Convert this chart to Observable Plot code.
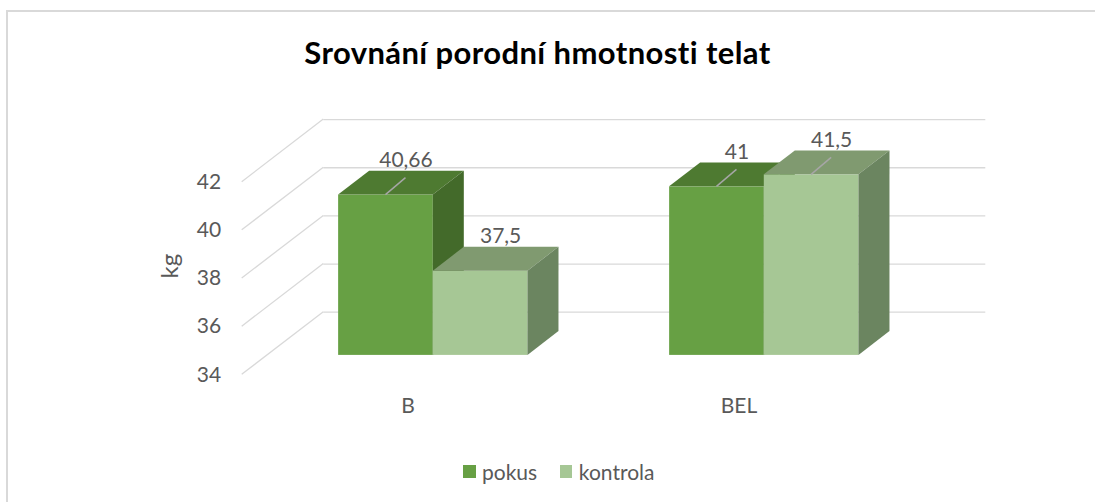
<!DOCTYPE html>
<html><head><meta charset="utf-8">
<script src="https://cdn.jsdelivr.net/npm/d3@7"></script>
<script src="https://cdn.jsdelivr.net/npm/@observablehq/plot@0.6"></script>
<style>
body{margin:0;background:#fff;}
#wrap{position:relative;width:1095px;height:502px;overflow:hidden;font-family:Lato,sans-serif;background:#fff;}
#border{position:absolute;left:6px;top:10px;width:1200px;height:600px;border-top:2px solid #D9D9D9;border-left:2px solid #D9D9D9;}
#chart{position:absolute;left:0;top:0;}
#title{position:absolute;left:0;top:37px;width:1075px;text-align:center;font-size:31px;line-height:31px;font-weight:bold;letter-spacing:0.4px;color:#000;}
#legend{position:absolute;left:463px;top:461px;display:flex;align-items:center;font-size:21px;line-height:21px;color:#595959;}
.item{display:flex;align-items:center;margin-right:22.7px;}
.sw{width:12.5px;height:12.5px;display:inline-block;margin-right:6.5px;}
</style></head>
<body>
<div id="wrap"><div id="border"></div><div id="chart"></div><div id="title"></div><div id="legend"></div></div>
<script>
// ---- data ----
const title = "Srovnání porodní hmotnosti telat";
const yLabel = "kg";
const categories = ["B", "BEL"];
const series = ["pokus", "kontrola"];
const pokus = [40.66, 41];
const kontrola = [37.5, 41.5];
const yDomain = [34, 42];
const yTicks = [34, 36, 38, 40, 42];
const pokusLeader = [true, true];
const kontrolaLeader = [false, true];

// ---- style / geometry ----
const W = 1095, H = 502;
const ml = 241.7, mr = 191.3, mt = 181.7, mb = 127.7;
const depth = [81.6, -62.6];            // floor depth vector (px)
const front = [depth[0] * 0.31, depth[1] * 0.31];
const back = [depth[0] * 0.69, depth[1] * 0.69];
const barDepth = [back[0] - front[0], back[1] - front[1]];
const grid = "#D9D9D9", textColor = "#595959";
const colors = {
  pokus: {front: "#67A044", top: "#4E7A31", side: "#436A2A"},
  kontrola: {front: "#A6C795", top: "#809A70", side: "#6B8560"}
};
const bw = (W - ml - mr) / categories.length;
const groupInset = 0.214 * bw;
const barW = (bw - 2 * groupInset) / series.length;
const insetL = s => groupInset + series.indexOf(s) * barW;
const insetR = s => bw - insetL(s) - barW;
const labelOff = [20, -35];
const leaderEnd = [20, -17];

const values = {pokus, kontrola};
const leaders = {pokus: pokusLeader, kontrola: kontrolaLeader};
const rows = categories.flatMap((c, i) => series.map(s => ({cat: c, series: s, value: values[s][i], leader: leaders[s][i]})));
const fmt = v => String(v).replace(".", ",");

const poly = pts => "M" + pts.map(p => p.join(",")).join("L") + "Z";

const wallLines = (index, scales, vals, dims) => {
  const g = d3.create("svg:g").attr("stroke", grid).attr("stroke-width", 1.3).attr("fill", "none");
  for (const t of yTicks) {
    const yy = scales.y(t);
    g.append("line").attr("x1", ml).attr("y1", yy).attr("x2", ml + depth[0]).attr("y2", yy + depth[1]);
  }
  return g.node();
};

function cubeFaces(s) {
  const data = rows.filter(d => d.series === s);
  return (index, scales) => {
    const g = d3.create("svg:g");
    for (const d of data) {
      const x0 = scales.x(d.cat) + insetL(s) + front[0];
      const x1 = x0 + barW;
      const yT = scales.y(d.value) + front[1];
      const yB = scales.y(yDomain[0]) + front[1];
      const [bx, by] = barDepth;
      g.append("path").attr("d", poly([[x0, yT], [x1, yT], [x1 + bx, yT + by], [x0 + bx, yT + by]])).attr("fill", colors[s].top);
      g.append("path").attr("d", poly([[x1, yT], [x1 + bx, yT + by], [x1 + bx, yB + by], [x1, yB]])).attr("fill", colors[s].side);
      if (d.leader) {
        const cx = (x0 + x1) / 2;
        g.append("line").attr("x1", cx).attr("y1", yT).attr("x2", cx + leaderEnd[0]).attr("y2", yT + leaderEnd[1])
          .attr("stroke", "#A6A6A6").attr("stroke-width", 1.5);
      }
    }
    return g.node();
  };
}

const barMarks = series.flatMap(s => {
  const data = rows.filter(d => d.series === s);
  const cOff = insetL(s) + barW / 2 - bw / 2;
  return [
    Plot.barY(data, {x: "cat", y1: yDomain[0], y2: "value", insetLeft: insetL(s), insetRight: insetR(s), dx: front[0], dy: front[1], fill: colors[s].front}),
    cubeFaces(s),
    Plot.text(data, {x: "cat", y: "value", text: d => fmt(d.value), dx: cOff + front[0] + labelOff[0], dy: front[1] + labelOff[1], fill: textColor, fontSize: 21, lineAnchor: "middle"})
  ];
});

const chart = Plot.plot({
  width: W, height: H,
  marginLeft: ml, marginRight: mr, marginTop: mt, marginBottom: mb,
  style: {fontFamily: "Lato, sans-serif", fontSize: "21px", color: textColor, background: "transparent", overflow: "visible"},
  x: {domain: categories, padding: 0, tickSize: 0, tickPadding: 23, label: null},
  y: {domain: yDomain, ticks: yTicks, tickSize: 0, tickPadding: 21, label: null, tickFormat: d => String(d)},
  marks: [
    Plot.ruleY(yTicks, {dx: depth[0], dy: depth[1], stroke: grid, strokeWidth: 1.3}),
    wallLines,
    ...barMarks,
    Plot.text([yLabel], {frameAnchor: "left", dx: -71.7, rotate: -90, fill: textColor, fontSize: 24})
  ]
});
document.getElementById("chart").appendChild(chart);
document.getElementById("title").textContent = title;
const legend = document.getElementById("legend");
for (const s of series) {
  const item = document.createElement("div");
  item.className = "item";
  const sw = document.createElement("span");
  sw.className = "sw";
  sw.style.background = colors[s].front;
  item.appendChild(sw);
  item.appendChild(document.createTextNode(s));
  legend.appendChild(item);
}
</script>
</body></html>
